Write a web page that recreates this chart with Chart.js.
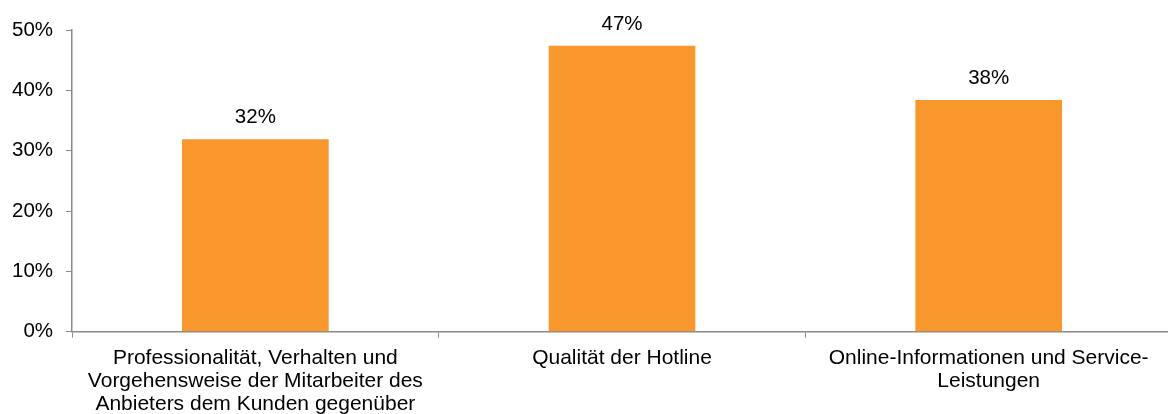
<!DOCTYPE html>
<html>
<head>
<meta charset="utf-8">
<script src="https://cdn.jsdelivr.net/npm/chart.js@4/dist/chart.umd.min.js"></script>
<style>
  html, body { margin: 0; padding: 0; background: #ffffff; overflow: hidden; }
  #wrap { position: relative; left: -11px; width: 1185px; height: 425px; }
</style>
</head>
<body>
<div id="wrap"><canvas id="chart"></canvas></div>
<script>
// Categories (each entry holds the wrapped lines of its label)
const categories = [
  ["Professionalität, Verhalten und", "Vorgehensweise der Mitarbeiter des", "Anbieters dem Kunden gegenüber"],
  ["Qualität der Hotline"],
  ["Online-Informationen und Service-", "Leistungen"]
];
// Share of respondents, in percent
const shares = [31.9, 47.4, 38.4];
// Value axis ticks, in percent
const yTicks = [0, 10, 20, 30, 40, 50];

const FONT = "'Liberation Sans', Arial, sans-serif";
const AXIS_GREY = "#8a8a8a";
const BAR_ORANGE = "#F8982C";

// Writes each bar's value above it
const valueLabels = {
  id: "valueLabels",
  afterDatasetsDraw(chart) {
    const ctx = chart.ctx;
    const meta = chart.getDatasetMeta(0);
    ctx.save();
    ctx.font = "20.5px " + FONT;
    ctx.fillStyle = "#000000";
    ctx.textAlign = "center";
    ctx.textBaseline = "alphabetic";
    meta.data.forEach((bar, i) => {
      ctx.fillText(Math.round(shares[i]) + "%", bar.x, bar.y - 16);
    });
    ctx.restore();
  }
};

new Chart(document.getElementById("chart"), {
  type: "bar",
  data: {
    labels: categories,
    datasets: [{
      data: shares,
      backgroundColor: BAR_ORANGE,
      borderWidth: 0,
      categoryPercentage: 1.0,
      barPercentage: 0.40
    }]
  },
  options: {
    responsive: true,
    maintainAspectRatio: false,
    animation: false,
    layout: { padding: { left: 10, right: 2, top: 30, bottom: 0 } },
    plugins: {
      legend: { display: false },
      tooltip: { enabled: false }
    },
    scales: {
      x: {
        grid: {
          display: true,
          drawOnChartArea: false,
          drawTicks: true,
          tickLength: 6,
          color: AXIS_GREY,
          offset: true
        },
        border: { display: true, color: AXIS_GREY, width: 1.5 },
        ticks: {
          color: "#000000",
          font: { family: FONT, size: 21, lineHeight: 1.1 },
          padding: 9,
          maxRotation: 0,
          minRotation: 0,
          autoSkip: false
        }
      },
      y: {
        min: 0,
        max: 50,
        afterBuildTicks(axis) {
          axis.ticks = yTicks.map(v => ({ value: v }));
        },
        grid: {
          display: true,
          drawOnChartArea: false,
          drawTicks: true,
          tickLength: 6,
          color: AXIS_GREY
        },
        border: { display: true, color: AXIS_GREY, width: 1.5 },
        ticks: {
          color: "#000000",
          font: { family: FONT, size: 20.5 },
          padding: 13,
          callback: v => v + "%"
        }
      }
    }
  },
  plugins: [valueLabels]
});
</script>
</body>
</html>
